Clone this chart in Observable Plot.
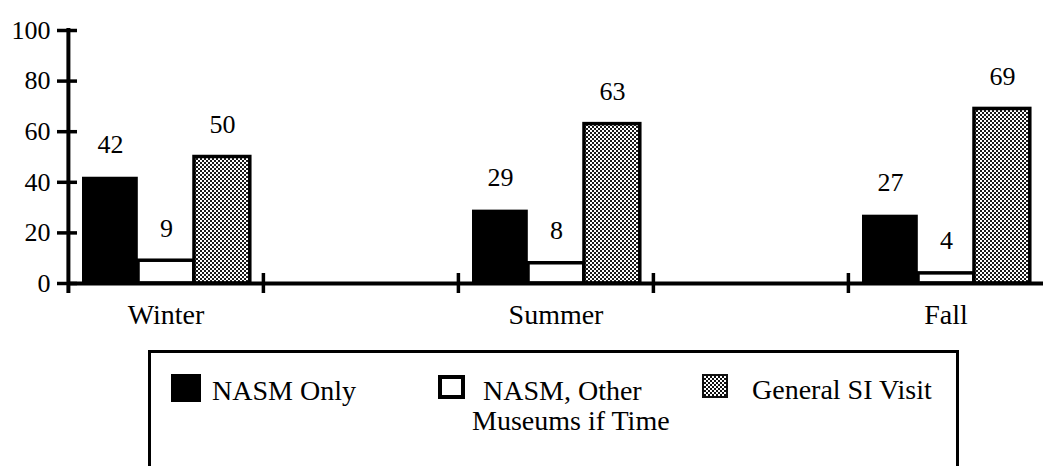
<!DOCTYPE html>
<html>
<head>
<meta charset="utf-8">
<script src="https://cdn.jsdelivr.net/npm/d3@7"></script>
<script src="https://cdn.jsdelivr.net/npm/@observablehq/plot@0.6"></script>
<style>
  html, body { margin: 0; padding: 0; background: #fff; }
  #wrap { position: relative; width: 1043px; height: 466px; overflow: hidden; font-family: "Liberation Serif", "Times New Roman", Tinos, "DejaVu Serif", serif; color: #000; }
  #wrap svg { display: block; font-family: "Liberation Serif", "Times New Roman", Tinos, "DejaVu Serif", serif !important; }
  #wrap svg text { font-family: "Liberation Serif", "Times New Roman", Tinos, "DejaVu Serif", serif; }
  .lg { position: absolute; font-size: 28px; line-height: 1; white-space: nowrap; }
  .sw { position: absolute; box-sizing: border-box; }
  #box { position: absolute; left: 148px; top: 350px; width: 811px; height: 140px; box-sizing: border-box; border: 3.5px solid #000; border-bottom: none; }
</style>
</head>
<body>
<div id="wrap"></div>
<script>
// ---- data ----
const seasons = ["Winter", "Summer", "Fall"];
const slots = ["Winter", "gap1", "Summer", "gap2", "Fall"];
const seriesNames = ["NASM Only", "NASM, Other Museums if Time", "General SI Visit"];
const nasmOnly = [42, 29, 27];
const nasmOther = [9, 8, 4];
const generalSI = [50, 63, 69];
const yTicks = [0, 20, 40, 60, 80, 100];

const seriesValues = [nasmOnly, nasmOther, generalSI];
const rows = seasons.flatMap((s, j) => seriesNames.map((k, i) => ({season: s, series: k, value: seriesValues[i][j]})));

// ---- layout / style ----
const W = 1043, H = 350, ML = 67, MR = 0, MT = 30, MB = 67;
const step = (W - ML - MR) / slots.length;
const pad = 14, bw = 56;
const fills = ["#000", "#fff", "url(#dots)"];
const strokes = ["none", "#000", "#000"];

const barMarks = seriesNames.map((k, i) => Plot.barY(rows.filter(d => d.series === k), {
  x: "season", y: "value",
  fill: fills[i], stroke: strokes[i], strokeWidth: 3.5,
  insetLeft: pad + bw * i, insetRight: step - pad - bw * (i + 1)
}));
const labelMarks = seriesNames.map((k, i) => Plot.text(rows.filter(d => d.series === k), {
  x: "season", y: "value", text: d => String(d.value),
  dx: pad + bw * i + bw / 2 - step / 2, dy: -24, lineAnchor: "bottom",
  fontSize: 26, fill: "#000"
}));

const svg = Plot.plot({
  width: W, height: H,
  marginLeft: ML, marginRight: MR, marginTop: MT, marginBottom: MB,
  style: "font-family: 'Liberation Serif', 'Times New Roman', Tinos, serif; color: #000; background: #fff; overflow: visible;",
  x: {type: "band", domain: slots, padding: 0, axis: null},
  y: {domain: [0, 100], axis: null},
  marks: [
    ...barMarks,
    ...labelMarks,
    Plot.ruleY([0], {stroke: "#000", strokeWidth: 4}),
    Plot.ruleX([slots[0]], {y1: 100, y2: 0, dx: -step / 2, insetTop: -2, insetBottom: -10, stroke: "#000", strokeWidth: 4}),
    Plot.ruleX(slots.slice(1), {y1: 0, y2: 0, dx: -step / 2, insetTop: -10, insetBottom: -10, stroke: "#000", strokeWidth: 3.5}),
    Plot.axisY({ticks: yTicks, label: null, tickSize: 20, dx: 10, tickPadding: 7, fontSize: 26, strokeWidth: 3.5}),
    Plot.axisX({ticks: seasons, label: null, tickSize: 0, tickPadding: 21, fontSize: 28})
  ]
});

// dotted fill pattern
const defs = d3.select(svg).insert("defs", ":first-child");
const pat = defs.append("pattern").attr("id", "dots").attr("width", 4).attr("height", 4).attr("patternUnits", "userSpaceOnUse");
pat.append("rect").attr("width", 4).attr("height", 4).attr("fill", "#1a1a1a");
pat.append("rect").attr("width", 2).attr("height", 2).attr("fill", "#fff");
pat.append("rect").attr("x", 2).attr("y", 2).attr("width", 2).attr("height", 2).attr("fill", "#fff");

const wrap = document.getElementById("wrap");
wrap.appendChild(svg);

// legend
const legend = [
  {lines: ["NASM Only"], sw: {left: 171, top: 374, w: 30, h: 28, css: "background:#000;"}, tx: [[212, 377]]},
  {lines: ["NASM, Other", "Museums if Time"], sw: {left: 438, top: 375, w: 27, h: 24, css: "background:#fff;border:4px solid #000;"}, tx: [[483, 377], [472, 407]]},
  {lines: ["General SI Visit"], sw: {left: 702, top: 374, w: 26, h: 24, css: "border:2px solid #111;background-color:#fff;background-image:repeating-conic-gradient(#111 0 25%, #fff 0 50%);background-size:4px 4px;"}, tx: [[752, 376]]}
];
const box = document.createElement("div");
box.id = "box";
wrap.appendChild(box);
legend.forEach(item => {
  const s = document.createElement("div");
  s.className = "sw";
  s.style.cssText = `left:${item.sw.left}px;top:${item.sw.top}px;width:${item.sw.w}px;height:${item.sw.h}px;` + item.sw.css;
  wrap.appendChild(s);
  item.lines.forEach((line, li) => {
    const t = document.createElement("div");
    t.className = "lg";
    t.style.left = item.tx[li][0] + "px";
    t.style.top = item.tx[li][1] + "px";
    t.textContent = line;
    wrap.appendChild(t);
  });
});
</script>
</body>
</html>
